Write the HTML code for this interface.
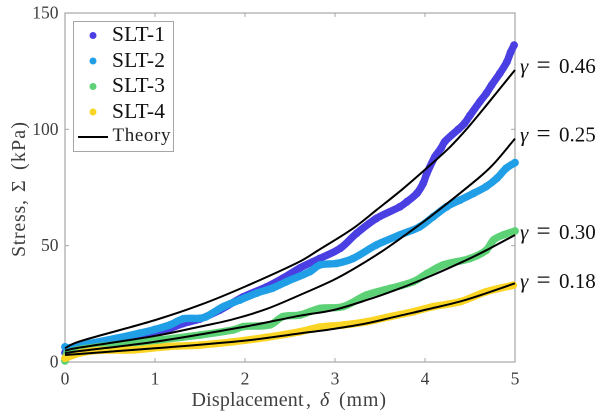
<!DOCTYPE html>
<html>
<head>
<meta charset="utf-8">
<style>
html,body{margin:0;padding:0;background:#fff;width:600px;height:419px;overflow:hidden}
svg{display:block}
text{font-family:"Liberation Serif",serif}
.tick{font-size:17.5px;fill:#404040}
.title{font-size:20px;fill:#404040}
.leg{font-size:21.5px;fill:#111}
.gam{font-size:21px;fill:#111}
</style>
</head>
<body>
<svg id="chart" width="600" height="419" viewBox="0 0 600 419" xmlns="http://www.w3.org/2000/svg">
<rect width="600" height="419" fill="#fff"/>
<g id="axes"></g>
<g id="series"></g>
<g id="theory"></g>
<g>
<text class="title" x="191.5" y="406" textLength="112" lengthAdjust="spacing">Displacement</text>
<text class="title" x="306" y="406">,</text>
<text class="title" x="320" y="406" font-style="italic">δ</text>
<text class="title" x="339" y="406" textLength="47" lengthAdjust="spacing">(mm)</text>
</g>
<g transform="translate(25,257) rotate(-90)">
<text class="title" x="0" y="0" textLength="57" lengthAdjust="spacing">Stress,</text>
<text class="title" x="65" y="0">Σ</text>
<text class="title" x="87" y="0" textLength="48" lengthAdjust="spacing">(kPa)</text>
</g>
<g id="gammas"></g>
<g>
<rect x="73.5" y="21.5" width="100" height="130" fill="#fff" stroke="#a6a6a6" stroke-width="1"/>
<circle cx="93" cy="35.5" r="3.5" fill="#4a3fe2"/>
<text class="leg" x="112" y="41" textLength="53" lengthAdjust="spacing">SLT-1</text>
<circle cx="93" cy="61" r="3.5" fill="#219fe6"/>
<text class="leg" x="112" y="67" textLength="53" lengthAdjust="spacing">SLT-2</text>
<circle cx="93" cy="86.5" r="3.5" fill="#5cd175"/>
<text class="leg" x="112" y="92" textLength="53" lengthAdjust="spacing">SLT-3</text>
<circle cx="93" cy="112" r="3.5" fill="#fbd524"/>
<text class="leg" x="112" y="118" textLength="53" lengthAdjust="spacing">SLT-4</text>
<line x1="78" x2="108" y1="137" y2="137" stroke="#000" stroke-width="2"/>
<text x="112.5" y="141" font-size="19" fill="#222" textLength="58" lengthAdjust="spacing">Theory</text>
</g>
</svg>
<script>
const xTicks = [0, 1, 2, 3, 4, 5];
const yTicks = [0, 50, 100, 150];
const slt1X = [0, 0.02, 0.28, 0.57, 0.83, 1, 1.17, 1.31, 1.5, 1.72, 1.98, 2.24, 2.42, 2.61, 2.83, 3.06, 3.24, 3.46, 3.72, 3.8, 3.91, 3.98, 4.02, 4.11, 4.18, 4.22, 4.37, 4.44, 4.5, 4.61, 4.68, 4.74, 4.83, 4.91, 4.95, 4.99];
const slt1Y = [4, 5.5, 7.5, 9.5, 11, 12.8, 14.5, 16.5, 18.5, 22.3, 28, 32.3, 36, 40.4, 44.5, 48.9, 55.3, 61.7, 66.7, 68.9, 72.5, 76.8, 81, 88.2, 92, 94.7, 100, 102.6, 106, 111.9, 115.4, 119, 124, 129, 133, 136.2];
const slt2X = [0, 0.02, 0.28, 0.57, 0.83, 1, 1.17, 1.31, 1.5, 1.57, 1.76, 1.94, 2.13, 2.31, 2.46, 2.72, 2.83, 3.02, 3.2, 3.46, 3.72, 3.94, 4.09, 4.24, 4.39, 4.54, 4.68, 4.8, 4.9, 5];
const slt2Y = [6.5, 6, 8, 10.2, 12.4, 14, 16, 18.5, 18.8, 19.5, 23.8, 26.6, 29.6, 31.8, 34.5, 38.8, 41.7, 42.4, 44.5, 50.3, 54.6, 58.1, 62.4, 66.7, 69.6, 72.5, 75.4, 79, 83.2, 85.7];
const slt3X = [0, 0.02, 0.39, 1.06, 1.5, 1.87, 1.98, 2.28, 2.42, 2.61, 2.83, 3.09, 3.35, 3.61, 3.87, 4.02, 4.2, 4.5, 4.68, 4.76, 4.87, 5];
const slt3Y = [0.5, 3.8, 6.6, 9.5, 11.6, 13.8, 15.2, 16, 19.5, 20.2, 23, 23.8, 28.8, 31.6, 34.5, 38, 41.7, 44.5, 48, 52.4, 54.6, 56.3];
const slt4X = [0, 0.17, 0.39, 0.76, 1.13, 1.5, 1.87, 2.24, 2.61, 2.83, 3.09, 3.35, 3.61, 3.87, 4.09, 4.39, 4.68, 4.98];
const slt4Y = [1.6, 3.9, 5, 5.2, 6.6, 7.3, 8.7, 10.6, 13, 15, 15.9, 17.3, 19.5, 21.6, 23.8, 25.9, 30.2, 33];
const theory1X = [0, 0.04, 0.1, 0.28, 1, 1.5, 2, 2.61, 2.83, 3.2, 3.46, 3.76, 4.06, 4.28, 4.46, 4.65, 4.83, 5];
const theory1Y = [5.9, 6.8, 8, 10.2, 18, 24.5, 32.4, 43.2, 48.4, 57.4, 65.3, 74.6, 84.7, 92.5, 100, 108.8, 117.4, 125.5];
const theory2X = [0, 0.1, 1, 1.5, 1.87, 2.24, 2.61, 2.98, 3.22, 3.5, 3.76, 4.06, 4.59, 4.76, 5];
const theory2Y = [4.9, 5.8, 11.2, 15.2, 18.4, 22.8, 28.8, 35.2, 40.3, 47, 54, 62.5, 78.9, 85, 96];
const theory3X = [0, 0.1, 1, 2, 2.61, 2.98, 3.35, 3.72, 4.09, 4.46, 4.68, 5];
const theory3Y = [3.8, 4.4, 8.7, 15.2, 19.9, 22.3, 26.6, 31.6, 37.4, 43.8, 48, 54.6];
const theory4X = [0, 0.1, 1, 2, 2.61, 2.98, 3.35, 3.72, 4.09, 4.46, 5];
const theory4Y = [3, 3.3, 5.9, 9.2, 12.3, 14.2, 16.6, 19.9, 23.2, 26.8, 33.8];
const gammaLabels = ["0.46", "0.25", "0.30", "0.18"];
const gammaValues = [124.3, 94.7, 52.9, 31.8];

const NS = 'http://www.w3.org/2000/svg';
const xPos = v => 65 + v * 90;
const yPos = v => 362 - v * (349 / 150);
const axes = document.getElementById('axes');
const seriesLayer = document.getElementById('series');
const theoryLayer = document.getElementById('theory');
const gammas = document.getElementById('gammas');

function make(tag, attrs, parent) {
  const el = document.createElementNS(NS, tag);
  for (const k in attrs) el.setAttribute(k, attrs[k]);
  parent.appendChild(el);
  return el;
}

function smoothPath(xs, ys) {
  const px = xs.map(xPos);
  const py = ys.map(yPos);
  const n = px.length;
  const slope = i => {
    if (i === 0) return (py[1] - py[0]) / (px[1] - px[0]);
    if (i === n - 1) return (py[n - 1] - py[n - 2]) / (px[n - 1] - px[n - 2]);
    return (py[i + 1] - py[i - 1]) / (px[i + 1] - px[i - 1]);
  };
  let d = 'M' + px[0] + ' ' + py[0];
  for (let i = 0; i < n - 1; i++) {
    const dx = (px[i + 1] - px[i]) / 3;
    d += ' C' + (px[i] + dx) + ' ' + (py[i] + slope(i) * dx) + ' ' + (px[i + 1] - dx) + ' ' + (py[i + 1] - slope(i + 1) * dx) + ' ' + px[i + 1] + ' ' + py[i + 1];
  }
  return d;
}

const frame = make('rect', {x: xPos(0), y: yPos(150), width: xPos(5) - xPos(0), height: yPos(0) - yPos(150), fill: 'none', stroke: '#a6a6a6', 'stroke-width': 1.2}, axes);



xTicks.forEach(t => {
  [[yPos(0), yPos(0) - 4], [yPos(150), yPos(150) + 4]].forEach(p => {
    const tk = make('line', {x1: xPos(t), x2: xPos(t), y1: p[0], y2: p[1], stroke: '#a6a6a6', 'stroke-width': 1}, axes);
    
    
  });
  const lb = make('text', {x: xPos(t), y: 384.5, 'text-anchor': 'middle', class: 'tick'}, axes);
  lb.textContent = t;
  
  
});

yTicks.forEach(t => {
  [[xPos(0), xPos(0) + 4], [xPos(5), xPos(5) - 4]].forEach(p => {
    const tk = make('line', {x1: p[0], x2: p[1], y1: yPos(t), y2: yPos(t), stroke: '#a6a6a6', 'stroke-width': 1}, axes);
    
    
  });
  const lb = make('text', {x: 58.5, y: yPos(t) + 5.5, 'text-anchor': 'end', class: 'tick'}, axes);
  lb.textContent = t;
  
  
});

function drawSeries(xs, ys, color, name) {
  const g = make('g', {}, seriesLayer);
  
  
  const band = make('path', {d: smoothPath(xs, ys), fill: 'none', stroke: color, 'stroke-width': 7.4, 'stroke-linejoin': 'round', 'stroke-linecap': 'round'}, g);
  
  
  xs.forEach((x, i) => {
    const c = make('circle', {cx: xPos(x), cy: yPos(ys[i]), r: 3.9, fill: color}, g);
    
    
  });
}
drawSeries(slt1X, slt1Y, '#4a3fe2', 'slt-1-series');
drawSeries(slt2X, slt2Y, '#219fe6', 'slt-2-series');
drawSeries(slt3X, slt3Y, '#5cd175', 'slt-3-series');
drawSeries(slt4X, slt4Y, '#fbd524', 'slt-4-series');

function drawTheory(xs, ys, name) {
  const l = make('path', {d: smoothPath(xs, ys), fill: 'none', stroke: '#000', 'stroke-width': 2, 'stroke-linejoin': 'round'}, theoryLayer);
  
  
}
drawTheory(theory1X, theory1Y, 'theory-line-046');
drawTheory(theory2X, theory2Y, 'theory-line-025');
drawTheory(theory3X, theory3Y, 'theory-line-030');
drawTheory(theory4X, theory4Y, 'theory-line-018');

gammaLabels.forEach((s, i) => {
  const y = yPos(gammaValues[i]);
  const t = make('text', {x: 520, y: y, class: 'gam'}, gammas);
  
  
  const a = make('tspan', {'font-style': 'italic'}, t);
  a.textContent = 'γ';
  const b = make('tspan', {x: 536.5, 'font-size': 25}, t);
  b.textContent = '=';
  const c = make('tspan', {x: 559}, t);
  c.textContent = s;
});
</script>
</body>
</html>
